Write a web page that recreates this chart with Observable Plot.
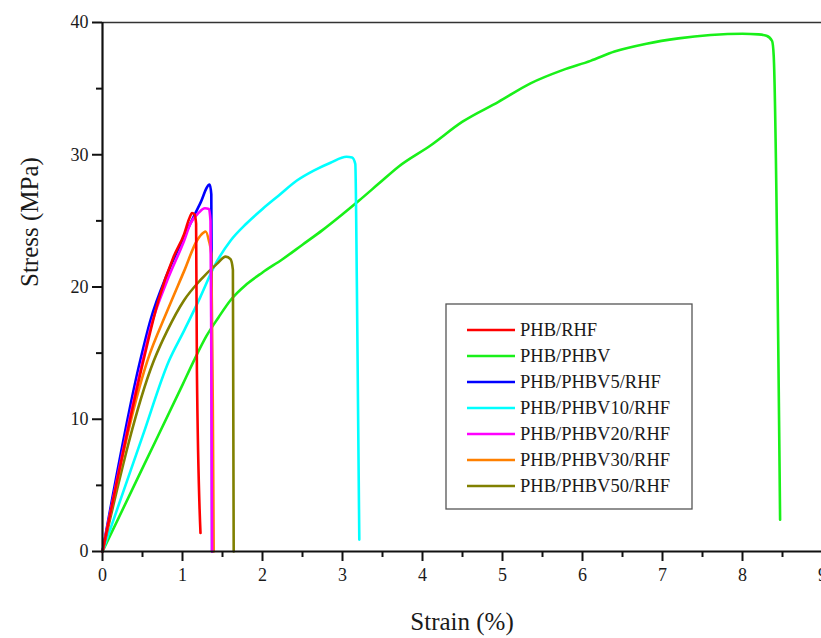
<!DOCTYPE html>
<html>
<head>
<meta charset="utf-8">
<script src="https://cdn.jsdelivr.net/npm/d3@7"></script>
<script src="https://cdn.jsdelivr.net/npm/@observablehq/plot@0.6"></script>
<style>
  html, body { margin: 0; padding: 0; background: white; }
  #chart { position: relative; width: 821px; height: 638px; }
</style>
</head>
<body>
<div id="chart"></div>
<script>
const seriesNames = ["PHB/RHF", "PHB/PHBV", "PHB/PHBV5/RHF", "PHB/PHBV10/RHF", "PHB/PHBV20/RHF", "PHB/PHBV30/RHF", "PHB/PHBV50/RHF"];
const seriesColors = ["#ff0000", "#19f019", "#0000ff", "#00ffff", "#ff00ff", "#ff8000", "#808000"];

const xTicks = [0, 1, 2, 3, 4, 5, 6, 7, 8, 9];
const xMinorTicks = [0.5, 1.5, 2.5, 3.5, 4.5, 5.5, 6.5, 7.5, 8.5];
const yTicks = [0, 10, 20, 30, 40];
const yMinorTicks = [5, 15, 25, 35];

// [strain %, stress MPa]
const phbRhf = [[0,0],[0.51,14.4],[0.7,19.0],[0.89,22.3],[1.02,24.0],[1.08,25.1],[1.12,25.6],[1.15,25.5],[1.17,24.8],[1.18,13.7],[1.225,1.4]];
const phbPhbv = [[0,0],[0.5,6.3],[1.0,12.6],[1.14,14.4],[1.3,16.3],[1.45,17.7],[1.6,19.0],[1.8,20.2],[2.0,21.1],[2.25,22.1],[2.5,23.2],[2.75,24.3],[3.0,25.5],[3.2,26.5],[3.45,27.8],[3.7,29.1],[4.1,30.7],[4.5,32.5],[4.95,34.0],[5.35,35.4],[5.75,36.4],[6.1,37.1],[6.4,37.8],[6.8,38.4],[7.2,38.8],[7.6,39.05],[8.0,39.15],[8.2,39.1],[8.3,39.0],[8.37,38.6],[8.39,37.5],[8.47,2.4]];
const phbv5 = [[0,0],[0.47,14.4],[0.6,17.5],[0.81,21.0],[1.02,23.8],[1.22,26.3],[1.34,27.75],[1.36,27.0],[1.365,20],[1.37,0]];
const phbv10 = [[0,0],[0.5,8.7],[0.83,14.4],[1.02,16.7],[1.22,19.2],[1.4,21.6],[1.6,23.5],[1.8,24.8],[2.0,25.9],[2.2,26.9],[2.43,28.05],[2.64,28.8],[2.85,29.4],[3.05,29.85],[3.12,29.8],[3.16,29.3],[3.18,20],[3.21,0.9]];
const phbv20 = [[0,0],[0.5,14.4],[0.6,16.9],[0.81,20.5],[1.02,23.5],[1.1,24.8],[1.2,25.6],[1.28,25.95],[1.33,25.9],[1.35,25.0],[1.36,15],[1.37,0]];
const phbv30 = [[0,0],[0.56,14.4],[0.81,18.2],[1.02,21.2],[1.18,23.5],[1.26,24.1],[1.29,24.2],[1.33,23.5],[1.36,22.5],[1.38,10],[1.39,0]];
const phbv50 = [[0,0],[0.64,14.4],[0.81,16.7],[1.02,19.0],[1.22,20.5],[1.43,21.75],[1.54,22.3],[1.6,22.1],[1.63,21.3],[1.64,0]];

const seriesData = [phbRhf, phbPhbv, phbv5, phbv10, phbv20, phbv30, phbv50];
const drawOrder = [1, 3, 2, 6, 5, 4, 0];

const rows = (i) => seriesData[i].map(([x, y]) => ({x, y, series: seriesNames[i]}));

const font = "'Liberation Serif', 'Times New Roman', serif";

const chart = Plot.plot({
  width: 821,
  height: 638,
  marginTop: 22,
  marginBottom: 87,
  marginLeft: 102,
  marginRight: 0,
  style: {fontFamily: font, fontSize: "18px", color: "#1a1a1a", background: "white", overflow: "visible"},
  x: {domain: [0, 9], range: [102, 822]},
  y: {domain: [0, 40], range: [551, 22]},
  color: {domain: seriesNames, range: seriesColors},
  marks: [
    Plot.ruleY([40], {stroke: "#333", strokeWidth: 1.3}),
    ...drawOrder.map(i => Plot.line(rows(i), {x: "x", y: "y", stroke: seriesColors[i], strokeWidth: 2.6, curve: "monotone-x", strokeLinejoin: "round", strokeLinecap: "round"})),
    Plot.ruleX([0], {stroke: "#111", strokeWidth: 2.2}),
    Plot.ruleY([0], {stroke: "#111", strokeWidth: 2.2}),
    Plot.axisX({ticks: xTicks, tickSize: 10, tickPadding: 7, label: null, strokeWidth: 2, stroke: "#111", fontSize: 18, tickFormat: d => String(d)}),
    Plot.axisX({ticks: xMinorTicks, tickSize: 6, label: null, strokeWidth: 2, stroke: "#111", tickFormat: () => ""}),
    Plot.axisY({ticks: yTicks, tickSize: 10, tickPadding: 4, label: null, strokeWidth: 2, stroke: "#111", fontSize: 18, tickFormat: d => String(d)}),
    Plot.axisY({ticks: yMinorTicks, tickSize: 6, label: null, strokeWidth: 2, stroke: "#111", tickFormat: () => ""}),
    Plot.text(["Strain (%)"], {frameAnchor: "bottom", dy: 78, fontSize: 25, fill: "#1a1a1a"}),
    Plot.text(["Stress (MPa)"], {frameAnchor: "left", dx: -73, rotate: -90, fontSize: 25, fill: "#1a1a1a"})
  ]
});

// legend
const svg = d3.select(chart);
const lg = svg.append("g").attr("font-family", font).attr("font-size", 18.5).attr("text-anchor", "start");
lg.append("rect").attr("x", 446).attr("y", 304).attr("width", 246).attr("height", 205)
  .attr("fill", "white").attr("stroke", "#555").attr("stroke-width", 1.3);
seriesNames.forEach((name, i) => {
  const yy = 330 + i * 26;
  lg.append("line").attr("x1", 467).attr("x2", 515).attr("y1", yy).attr("y2", yy)
    .attr("stroke", seriesColors[i]).attr("stroke-width", 2.6);
  lg.append("text").attr("x", 520).attr("y", yy).attr("dy", "0.35em").attr("text-anchor", "start").attr("fill", "#1a1a1a").text(name);
});

document.getElementById("chart").appendChild(chart);
</script>
</body>
</html>
